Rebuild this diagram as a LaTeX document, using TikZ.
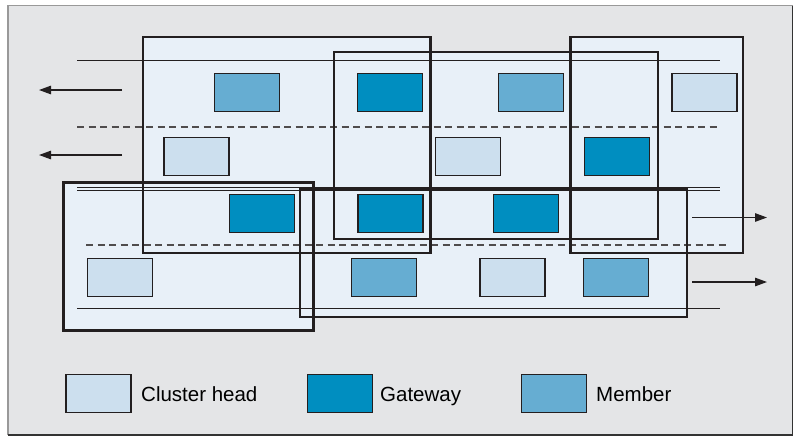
\documentclass[tikz,border=0pt]{standalone}
\usepackage{fontspec}
\setmainfont{Liberation Sans}
\usetikzlibrary{arrows.meta}
\definecolor{bgc}{HTML}{E4E5E7}
\definecolor{roadc}{HTML}{E8F0F8}
\definecolor{chc}{HTML}{CCDFEE}
\definecolor{gwc}{HTML}{008EC0}
\definecolor{mbc}{HTML}{66ADD2}
\definecolor{inkc}{HTML}{231F20}
\tikzset{
  clusterbox/.style={draw=inkc, line width=2.8pt},
  clusterfill/.style={fill=roadc},
  nodebox/.style={draw=inkc, line width=1.1pt, minimum width=65pt, minimum height=38pt, inner sep=0pt},
  chbox/.style={nodebox, fill=chc},
  gwbox/.style={nodebox, fill=gwc},
  mbbox/.style={nodebox, fill=mbc},
  lane/.style={draw=inkc, line width=1.2pt},
  dashlane/.style={draw=inkc!80, line width=1.3pt, dash pattern=on 7pt off 4.5pt},
  flow/.style={draw=inkc, line width=1.2pt, -{Triangle[length=12pt,width=8.5pt]}},
  legtext/.style={anchor=base west, inner sep=0pt, font=\fontsize{20.5pt}{24pt}\selectfont, text=black}
}
\begin{document}
\begin{tikzpicture}[x=1pt,y=-1pt]
\useasboundingbox (0,0) rectangle (801,437);
% frame
\fill[bgc] (8,5.5) rectangle (792.5,435);
\draw[gray!80, line width=1.2pt] (8,435) -- (8,5.5) -- (792.5,5.5);
\draw[gray!40!black, line width=1.8pt] (792.5,5.5) -- (792.5,435) -- (8,435);
% cluster fills
\fill[roadc] (143,37) rectangle (430.5,253);
\fill[roadc] (334,52) rectangle (658,239);
\fill[roadc] (570.5,37) rectangle (743,253);
\fill[roadc] (63.5,182.5) rectangle (313.5,330.5);
\fill[roadc] (300,189) rectangle (687,317);
% lanes
\coordinate (l1a) at (77,60.5);  \coordinate (l1b) at (720,60.5);
\coordinate (d1a) at (77,127);   \coordinate (d1b) at (720,127);
\coordinate (m1a) at (77,187.3); \coordinate (m1b) at (720,187.3);
\coordinate (m2a) at (77,190.6); \coordinate (m2b) at (720,190.6);
\coordinate (d2a) at (86,245);   \coordinate (d2b) at (730,245);
\coordinate (l2a) at (77,308.5); \coordinate (l2b) at (720,308.5);
\draw[lane] (l1a) -- (l1b);
\draw[dashlane] (d1a) -- (d1b);
\draw[lane, line width=0.9pt] (m1a) -- (m1b);
\draw[lane, line width=0.9pt] (m2a) -- (m2b);
\draw[dashlane] (d2a) -- (d2b);
\draw[lane] (l2a) -- (l2b);
% cluster outlines
\draw[clusterbox] (143,37) rectangle (430.5,253);
\draw[clusterbox] (334,52) rectangle (658,239);
\draw[clusterbox] (570.5,37) rectangle (743,253);
\draw[clusterbox] (63.5,182.5) rectangle (313.5,330.5);
\draw[clusterbox] (300,189) rectangle (687,317);
% arrows
\coordinate (a1s) at (122,90);    \coordinate (a1e) at (39,90);
\coordinate (a2s) at (122,155);   \coordinate (a2e) at (39,155);
\coordinate (a3s) at (692,217.5); \coordinate (a3e) at (767,217.5);
\coordinate (a4s) at (692,282);   \coordinate (a4e) at (767,282);
\draw[flow] (a1s) -- (a1e);
\draw[flow] (a2s) -- (a2e);
\draw[flow] (a3s) -- (a3e);
\draw[flow] (a4s) -- (a4e);
% row 1
\node[mbbox] (r1a) at (247,92.5) {};
\node[gwbox] (r1b) at (390,92.5) {};
\node[mbbox] (r1c) at (531,92.5) {};
\node[chbox] (r1d) at (704.5,92.5) {};
% row 2
\node[chbox] (r2a) at (196.5,156.5) {};
\node[chbox] (r2b) at (468,156.5) {};
\node[gwbox] (r2c) at (617.3,156.5) {};
% row 3
\node[gwbox] (r3a) at (261.7,213.8) {};
\node[gwbox] (r3b) at (390.5,213.8) {};
\node[gwbox] (r3c) at (526.3,213.8) {};
% row 4
\node[chbox] (r4a) at (120.3,277.8) {};
\node[mbbox] (r4b) at (383.8,277.8) {};
\node[chbox] (r4c) at (512.5,277.8) {};
\node[mbbox] (r4d) at (616.3,277.8) {};
% legend
\node[chbox] (lg1) at (98.5,393.5) {};
\node[gwbox] (lg2) at (340,393.5) {};
\node[mbbox] (lg3) at (554,393.5) {};
\node[legtext] (lt1) at (141,401) {Cluster head};
\node[legtext] (lt2) at (380,401) {Gateway};
\node[legtext] (lt3) at (596,401) {Member};
\end{tikzpicture}
\end{document}
